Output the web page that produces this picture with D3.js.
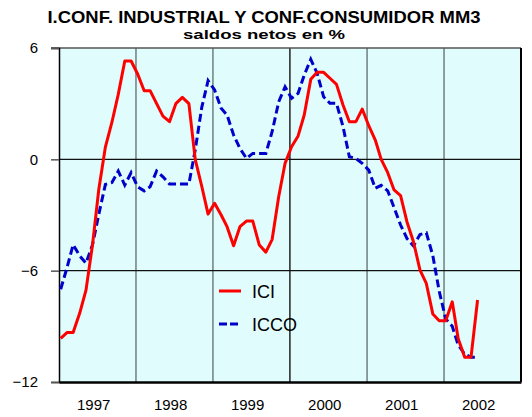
<!DOCTYPE html>
<html>
<head>
<meta charset="utf-8">
<script src="https://cdn.jsdelivr.net/npm/d3@7"></script>
<style>
  body { margin: 0; background: #fff; }
  text { font-family: "Liberation Sans", Arial, sans-serif; fill: #000; }
</style>
</head>
<body>
<div id="chart"></div>
<script>
const width = 532;
const height = 417;

// series mensuales, enero 1997 -> junio 2002 (MM3)
const ici = [
  -9.65, -9.33, -9.33, -8.3, -7.05, -4.6, -1.6, 0.66, 2.0, 3.5, 5.3, 5.3,
  4.6, 3.7, 3.7, 3.0, 2.33, 2.03, 3.0, 3.34, 3.0, 0.0, -1.45, -2.95,
  -2.37, -3.0, -3.63, -4.66, -3.63, -3.33, -3.33, -4.62, -5.0, -4.31, -2.0, -0.22,
  0.68, 1.26, 2.39, 4.31, 4.69, 4.69, 4.37, 4.04, 2.93, 2.03, 2.03, 2.71,
  1.81, 1.04, 0.0, -0.72, -1.65, -1.96, -3.36, -4.44, -5.97, -6.69, -8.34, -8.7,
  -8.7, -7.68, -9.65, -10.67, -10.67, -7.58
];
const icco = [
  -7.0, -5.8, -4.6, -5.2, -5.6, -4.6, -2.95, -1.35, -1.25, -0.63, -1.39, -0.72,
  -1.48, -1.7, -1.48, -0.63, -0.94, -1.33, -1.33, -1.33, -1.33, 0.5, 2.8, 4.24,
  3.74, 2.75, 2.39, 1.31, 0.59, 0.05, 0.32, 0.32, 0.32, 1.5, 3.1, 3.91,
  3.29, 3.56, 4.54, 5.39, 4.64, 3.37, 3.02, 3.02, 1.76, 0.14, 0.05, -0.22,
  -0.58, -1.56, -1.4, -1.7, -2.6, -3.54, -4.26, -4.67, -4.05, -3.96, -5.2, -7.1,
  -8.6, -9.0, -10.0, -10.5, -10.67, -10.67
];
const years = [1997, 1998, 1999, 2000, 2001, 2002];
const yTicks = [6, 0, -6, -12];
const seriesNames = ["ICI", "ICCO"];

const margin = {top: 48, right: 11, bottom: 35, left: 59};

const svg = d3.select("#chart").append("svg")
  .attr("width", width)
  .attr("height", height);

const x = d3.scaleTime()
  .domain([new Date(1997, 0, 1), new Date(2003, 0, 1)])
  .range([margin.left, width - margin.right]);

const y = d3.scaleLinear()
  .domain([-12, 6])
  .range([height - margin.bottom, margin.top]);

const monthDate = i => new Date(1997, i, 9);

// fondo
svg.append("rect")
  .attr("x", x.range()[0])
  .attr("y", y(6))
  .attr("width", x.range()[1] - x.range()[0])
  .attr("height", y(-12) - y(6))
  .attr("fill", "#e0fcfc");

// lineas verticales (años)
svg.append("g")
  .selectAll("line")
  .data(years.slice(1))
  .join("line")
  .attr("x1", d => x(new Date(d, 0, 1)))
  .attr("x2", d => x(new Date(d, 0, 1)))
  .attr("y1", y(6))
  .attr("y2", y(-12))
  .attr("stroke", d => d === 2000 ? "#222" : "#6f7f7f")
  .attr("stroke-width", 1.5);

// lineas horizontales
svg.append("g")
  .selectAll("line")
  .data([0, -6])
  .join("line")
  .attr("x1", x.range()[0])
  .attr("x2", x.range()[1])
  .attr("y1", d => y(d))
  .attr("y2", d => y(d))
  .attr("stroke", "#111")
  .attr("stroke-width", 1.2);

// borde superior
svg.append("line")
  .attr("x1", x.range()[0] - 8).attr("x2", x.range()[1])
  .attr("y1", y(6)).attr("y2", y(6))
  .attr("stroke", "#555").attr("stroke-width", 1.5);

// borde derecho
svg.append("line")
  .attr("x1", x.range()[1]).attr("x2", x.range()[1])
  .attr("y1", y(6)).attr("y2", y(-12))
  .attr("stroke", "#000").attr("stroke-width", 2);

// eje Y
const yAxis = svg.append("g")
  .attr("transform", `translate(${margin.left},0)`)
  .call(d3.axisLeft(y).tickValues(yTicks).tickSize(8).tickPadding(13).tickFormat(d3.format("d")));
yAxis.select(".domain").attr("stroke", "#000").attr("stroke-width", 1.5);
yAxis.selectAll(".tick line").attr("stroke", "#555").attr("stroke-width", 1.5);
yAxis.selectAll(".tick text")
  .attr("font-size", 15)
  .attr("font-family", "'Liberation Sans', Arial, sans-serif")
  .attr("fill", "#000");

// eje X
const xAxis = svg.append("g")
  .attr("transform", `translate(0,${y(-12)})`)
  .call(d3.axisBottom(x).tickValues([]).tickSize(0));
xAxis.select(".domain").attr("stroke", "#000").attr("stroke-width", 2.5);

svg.append("g")
  .selectAll("text")
  .data(years)
  .join("text")
  .attr("x", d => x(new Date(d, 6, 1)) - 3.5)
  .attr("y", 410)
  .attr("text-anchor", "middle")
  .attr("font-size", 15)
  .text(d => d);

// lineas de datos
const line = d3.line()
  .x((d, i) => x(monthDate(i)))
  .y(d => y(d));

svg.append("path")
  .datum(icco)
  .attr("fill", "none")
  .attr("stroke", "#0000cc")
  .attr("stroke-width", 3)
  .attr("stroke-dasharray", "8,4")
  .attr("d", line);

svg.append("path")
  .datum(ici)
  .attr("fill", "none")
  .attr("stroke", "#ff0000")
  .attr("stroke-width", 3)
  .attr("stroke-linejoin", "round")
  .attr("d", line);

// leyenda
const legend = svg.append("g").attr("transform", "translate(219,291)");
legend.append("line")
  .attr("x1", 0).attr("x2", 22).attr("y1", 0).attr("y2", 0)
  .attr("stroke", "#ff0000").attr("stroke-width", 3);
legend.append("line")
  .attr("x1", 0).attr("x2", 21).attr("y1", 33).attr("y2", 33)
  .attr("stroke", "#0000cc").attr("stroke-width", 3)
  .attr("stroke-dasharray", "8,3");
legend.selectAll("text")
  .data(seriesNames)
  .join("text")
  .attr("x", 33)
  .attr("y", (d, i) => i * 33 + 6.5)
  .attr("font-size", 18)
  .text(d => d);

// titulos
svg.append("text")
  .attr("x", 264)
  .attr("y", 23)
  .attr("text-anchor", "middle")
  .attr("font-size", 16.5)
  .attr("font-weight", "bold")
  .attr("textLength", 433)
  .attr("lengthAdjust", "spacingAndGlyphs")
  .text("I.CONF. INDUSTRIAL Y CONF.CONSUMIDOR MM3");

svg.append("text")
  .attr("x", 264)
  .attr("y", 39)
  .attr("text-anchor", "middle")
  .attr("font-size", 13.5)
  .attr("font-weight", "bold")
  .attr("textLength", 162)
  .attr("lengthAdjust", "spacingAndGlyphs")
  .text("saldos netos  en %");
</script>
</body>
</html>
